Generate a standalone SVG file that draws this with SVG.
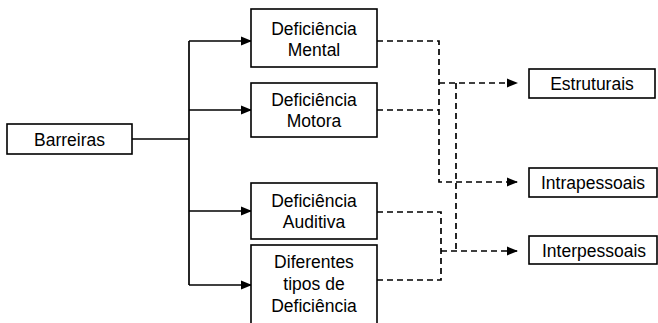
<svg xmlns="http://www.w3.org/2000/svg" width="658" height="323" viewBox="0 0 658 323">
<defs>
<marker id="ah" markerWidth="11" markerHeight="10" refX="10" refY="5" orient="auto" markerUnits="userSpaceOnUse">
<path d="M0,0.5 L11,5 L0,9.5 Z" fill="#000"/>
</marker>
<style>
.box{fill:#fff;stroke:#000;stroke-width:1.6}
.t{font-family:"Liberation Sans",Arial,sans-serif;font-size:17.5px;fill:#000;text-anchor:middle}
.s{fill:none;stroke:#000;stroke-width:1.7}
.d{fill:none;stroke:#000;stroke-width:1.7;stroke-dasharray:6,4}
</style>
</defs>
<rect width="658" height="323" fill="#fff"/>
<g id="connectors">
<path class="s" d="M132,139 H189"/>
<path class="s" d="M189,41 V285"/>
<path class="s" d="M189,41 H251" marker-end="url(#ah)"/>
<path class="s" d="M189,110 H251" marker-end="url(#ah)"/>
<path class="s" d="M189,211 H251" marker-end="url(#ah)"/>
<path class="s" d="M189,285 H251" marker-end="url(#ah)"/>
<path class="d" d="M377,41 H439 V182 H517" marker-end="url(#ah)"/>
<path class="d" d="M377,110 H439"/>
<path class="d" d="M439,83 H517" marker-end="url(#ah)"/>
<path class="d" d="M456,83 V251"/>
<path class="d" d="M441,251 H517" marker-end="url(#ah)"/>
<path class="d" d="M377,212 H441 V280 H377"/>
</g>
<g id="barreiras">
<rect class="box" x="7" y="124" width="125" height="30"/>
<text class="t" x="69.5" y="145.5">Barreiras</text>
</g>
<g id="mental">
<rect class="box" x="251" y="9" width="126" height="58"/>
<text class="t" x="314" y="35">Deficiência</text>
<text class="t" x="314" y="56">Mental</text>
</g>
<g id="motora">
<rect class="box" x="251" y="83" width="126" height="54"/>
<text class="t" x="314" y="106">Deficiência</text>
<text class="t" x="314" y="127">Motora</text>
</g>
<g id="auditiva">
<rect class="box" x="251" y="183" width="126" height="56"/>
<text class="t" x="314" y="207">Deficiência</text>
<text class="t" x="314" y="228">Auditiva</text>
</g>
<g id="diferentes">
<rect class="box" x="251" y="245" width="126" height="84"/>
<text class="t" x="314" y="268">Diferentes</text>
<text class="t" x="314" y="290">tipos de</text>
<text class="t" x="314" y="312">Deficiência</text>
</g>
<g id="estruturais">
<rect class="box" x="529" y="69" width="126" height="29"/>
<text class="t" x="592" y="89.5">Estruturais</text>
</g>
<g id="intrapessoais">
<rect class="box" x="529" y="168" width="128" height="29"/>
<text class="t" x="593" y="188.5">Intrapessoais</text>
</g>
<g id="interpessoais">
<rect class="box" x="529" y="236" width="128" height="28"/>
<text class="t" x="594" y="256.5">Interpessoais</text>
</g>
</svg>
